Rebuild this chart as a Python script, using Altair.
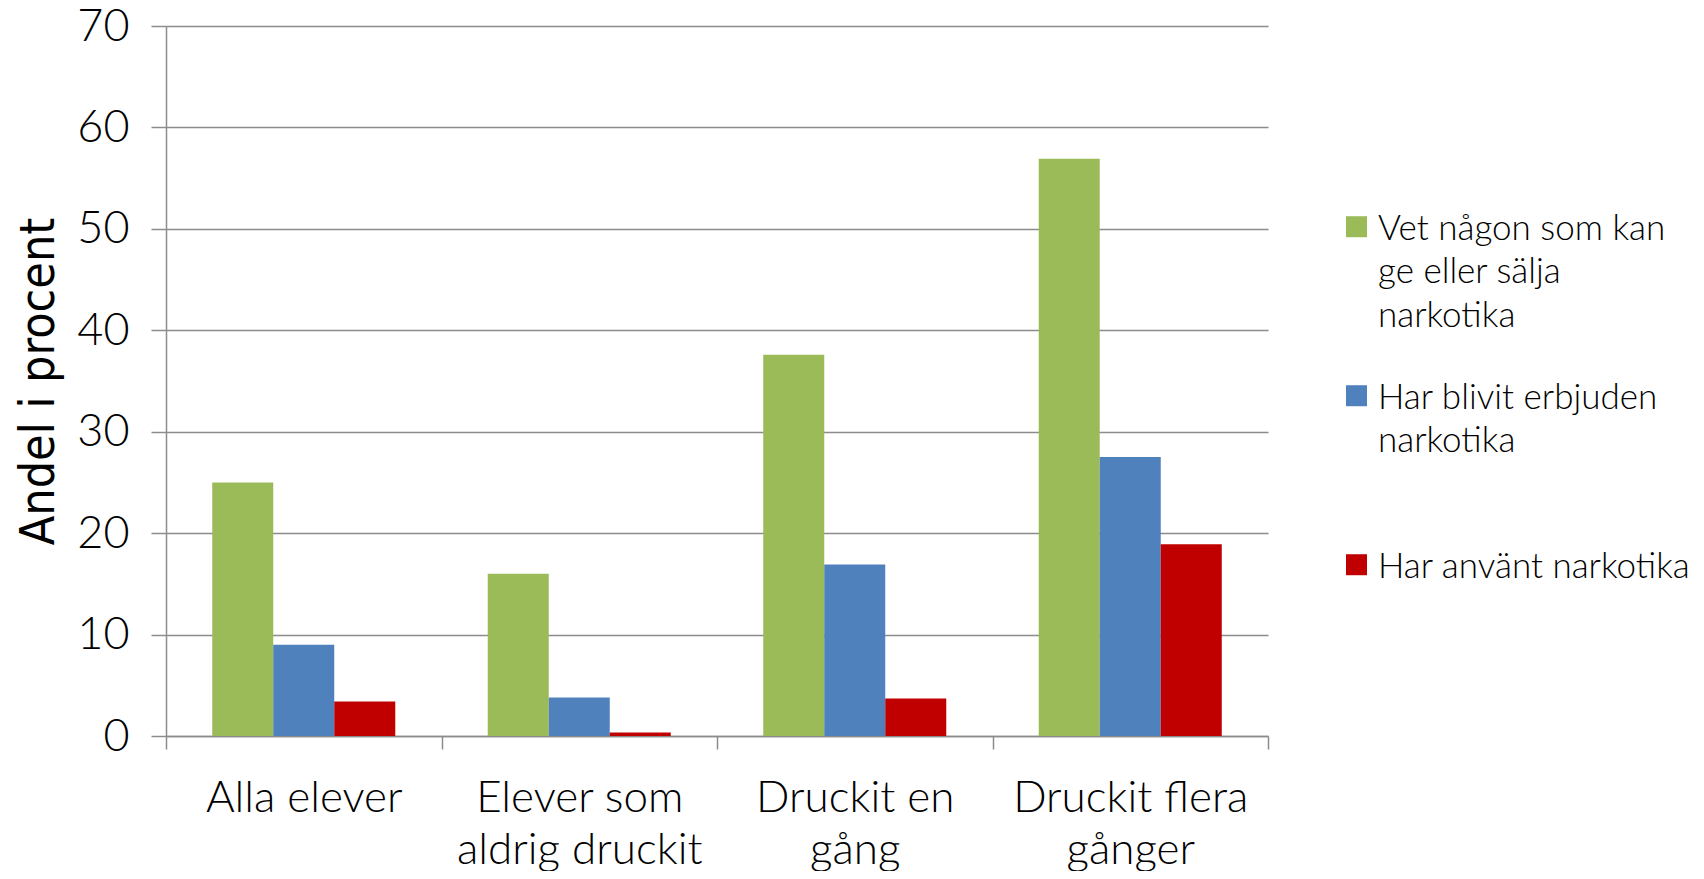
import altair as alt
import pandas as pd

categories = ["Alla elever", "Elever som|aldrig druckit", "Druckit en|gång", "Druckit flera|gånger"]
series = ["Vet någon som kan|ge eller sälja|narkotika", "Har blivit erbjuden|narkotika", "Har använt narkotika"]
vet_nagon = [25.0, 16.0, 37.6, 56.9]
erbjuden = [9.0, 3.8, 16.9, 27.5]
anvant = [3.4, 0.35, 3.7, 18.9]
colors = ["#9BBB59", "#4F81BD", "#C00000"]
y_ticks = [0, 10, 20, 30, 40, 50, 60, 70]

rows = []
for s, vals in zip(series, [vet_nagon, erbjuden, anvant]):
    for c, v in zip(categories, vals):
        rows.append({"kategori": c, "serie": s, "andel": v})
df = pd.DataFrame(rows)

GRID = "#8c8c8c"
FONT = "Lato"
# square symbol nudged down so it lines up with the first label line
SYMBOL = "M-1,0.45H1V2.45H-1Z"

chart = alt.Chart(df).mark_bar().encode(
    x=alt.X(
        "kategori:N", sort=categories,
        scale=alt.Scale(paddingInner=0, paddingOuter=0),
        axis=alt.Axis(
            title=None, labelAngle=0, labelExpr="split(datum.label, '|')",
            tickBand="extent", tickSize=13, tickColor=GRID, tickWidth=1.5,
            domainColor=GRID, domainWidth=1.5, labelPadding=27,
            labelFont=FONT, labelFontSize=44, labelFontWeight=300,
            labelColor="#000000", labelLineHeight=52, labelBaseline="top",
            labelLimit=500,
        ),
    ),
    xOffset=alt.XOffset("serie:N", sort=series,
                        scale=alt.Scale(paddingOuter=0.758, paddingInner=0)),
    y=alt.Y(
        "andel:Q",
        scale=alt.Scale(domain=[0, 70], nice=False),
        axis=alt.Axis(
            values=y_ticks, title="Andel i procent",
            titleFont="DejaVu Sans Condensed", titleFontSize=48, titleFontWeight=300,
            titleColor="#000000", titleX=-127, titleY=355, titleAngle=-90,
            titleBaseline="middle", titleAlign="center",
            grid=True, gridColor=GRID, gridWidth=1.5,
            tickSize=15, tickColor=GRID, tickWidth=1.5,
            domainColor=GRID, domainWidth=1.5, labelPadding=22,
            labelFont=FONT, labelFontSize=45, labelFontWeight=300, labelColor="#000000",
        ),
    ),
    color=alt.Color(
        "serie:N", sort=series,
        scale=alt.Scale(domain=series, range=colors),
        legend=alt.Legend(
            title=None, orient="none", legendX=1173, legendY=168,
            symbolType=SYMBOL, symbolSize=441, symbolStrokeWidth=0,
            labelFont=FONT, labelFontSize=35, labelFontWeight=300, labelColor="#000000",
            labelLimit=500, labelExpr="split(datum.label, '|')",
            labelOffset=4, gridAlign="all", rowPadding=29, padding=0,
            labelBaseline="top",
        ),
    ),
).properties(
    width=1102, height=710,
    autosize=alt.AutoSizeParams(type="none"),
    padding={"left": 158, "top": 18, "right": 428, "bottom": 135},
).configure(
    background="white",
    style={"guide-label": {"lineHeight": 43.5}},
).configure_view(stroke=None)

chart.save("out.html", embed_options={"renderer": "svg", "actions": False})
